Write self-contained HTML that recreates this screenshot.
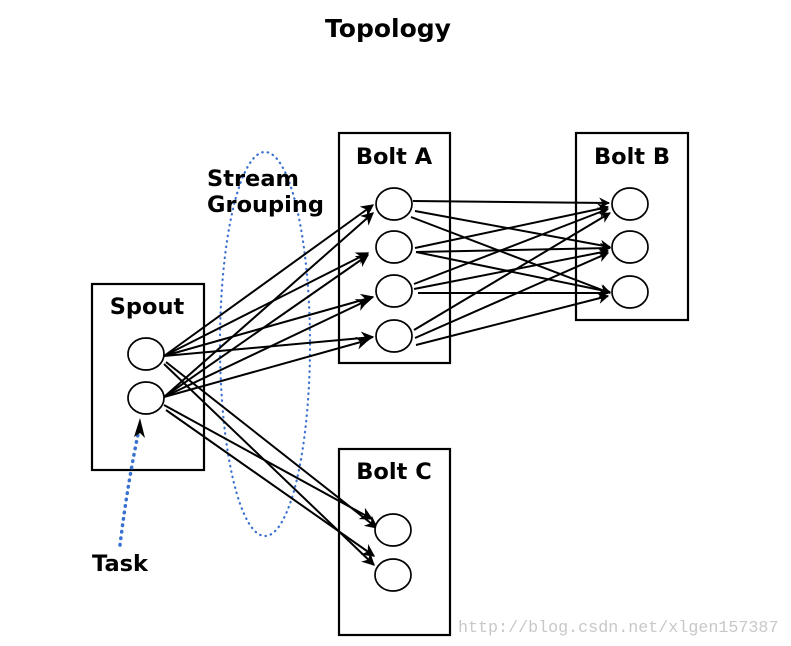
<!DOCTYPE html><html><head><style>body{margin:0;background:#fff}svg{display:block}</style></head><body>
<svg width="791" height="646" xmlns="http://www.w3.org/2000/svg" font-family="DejaVu Sans, Liberation Sans, sans-serif" font-weight="bold">
<defs><marker id="a" viewBox="0 0 10 10" refX="9" refY="5" markerWidth="11" markerHeight="11" orient="auto" markerUnits="userSpaceOnUse"><path d="M0,0 L10,5 L0,10 L3,5z" fill="#000"/></marker>
<marker id="b" viewBox="0 0 10 10" refX="9" refY="5" markerWidth="13" markerHeight="13" orient="auto" markerUnits="userSpaceOnUse"><path d="M0,0 L10,5 L0,10 L3,5z" fill="#000"/></marker></defs>
<text x="388" y="37" font-size="25" text-anchor="middle">Topology</text>
<g fill="none" stroke="#000" stroke-width="2.2">
<rect x="92" y="284" width="112" height="186"/>
<rect x="339" y="133" width="111" height="230"/>
<rect x="576" y="133" width="112" height="187"/>
<rect x="339" y="449" width="111" height="186"/>
</g>
<ellipse cx="265" cy="344" rx="45" ry="192" fill="none" stroke="#3a70d0" stroke-width="2.2" stroke-dasharray="0.5 5" stroke-linecap="round"/>
<path d="M120,545 Q128,480 140,425" fill="none" stroke="#3a70d0" stroke-width="3.5" stroke-dasharray="0.5 6" stroke-linecap="round"/>
<path d="M140,418 L145,438 L140,433 L134,437z" fill="#000"/>
<g font-size="22.5">
<text x="147" y="314" text-anchor="middle">Spout</text>
<text x="394" y="164" text-anchor="middle">Bolt A</text>
<text x="632" y="164" text-anchor="middle">Bolt B</text>
<text x="394" y="479" text-anchor="middle">Bolt C</text>
<text x="207" y="186">Stream</text>
<text x="207" y="212">Grouping</text>
<text x="92" y="571">Task</text>
</g>
<g stroke="#000" stroke-width="2" marker-end="url(#b)">
<line x1="164" y1="356" x2="373" y2="205"/>
<line x1="164" y1="356" x2="368" y2="253"/>
<line x1="164" y1="356" x2="373" y2="297"/>
<line x1="164" y1="356" x2="373" y2="337"/>
<line x1="164" y1="397" x2="373" y2="213"/>
<line x1="164" y1="397" x2="368" y2="255"/>
<line x1="164" y1="397" x2="368" y2="300"/>
<line x1="164" y1="397" x2="368" y2="340"/>
<line x1="166" y1="362" x2="377" y2="528"/>
<line x1="164" y1="364" x2="374" y2="565"/>
<line x1="164" y1="405" x2="372" y2="519"/>
<line x1="166" y1="410" x2="374" y2="556"/>
</g>
<g stroke="#000" stroke-width="2" marker-end="url(#a)">
<line x1="413" y1="201" x2="609" y2="203"/>
<line x1="415" y1="211" x2="610" y2="247"/>
<line x1="411" y1="217" x2="610" y2="293"/>
<line x1="415" y1="248" x2="608" y2="207"/>
<line x1="416" y1="252" x2="610" y2="248"/>
<line x1="416" y1="252" x2="610" y2="292"/>
<line x1="414" y1="284" x2="608" y2="209"/>
<line x1="414" y1="289" x2="608" y2="251"/>
<line x1="418" y1="293" x2="608" y2="293"/>
<line x1="414" y1="330" x2="610" y2="213"/>
<line x1="415" y1="338" x2="608" y2="253"/>
<line x1="416" y1="345" x2="608" y2="296"/>
</g>
<g fill="#fff" stroke="#000" stroke-width="1.7">
<ellipse cx="146" cy="354" rx="18" ry="16"/>
<ellipse cx="146" cy="398" rx="18" ry="16"/>
<ellipse cx="394" cy="204" rx="18" ry="16"/>
<ellipse cx="394" cy="247" rx="18" ry="16"/>
<ellipse cx="394" cy="291" rx="18" ry="16"/>
<ellipse cx="394" cy="336" rx="18" ry="16"/>
<ellipse cx="630" cy="204" rx="18" ry="16"/>
<ellipse cx="630" cy="247" rx="18" ry="16"/>
<ellipse cx="630" cy="292" rx="18" ry="16"/>
<ellipse cx="393" cy="530" rx="18" ry="16"/>
<ellipse cx="393" cy="575" rx="18" ry="16"/>
</g>
<text x="458" y="632" font-size="16.7" font-weight="normal" font-family="Liberation Mono, monospace" fill="#c8c8c8">http://blog.csdn.net/xlgen157387</text>
</svg></body></html>
